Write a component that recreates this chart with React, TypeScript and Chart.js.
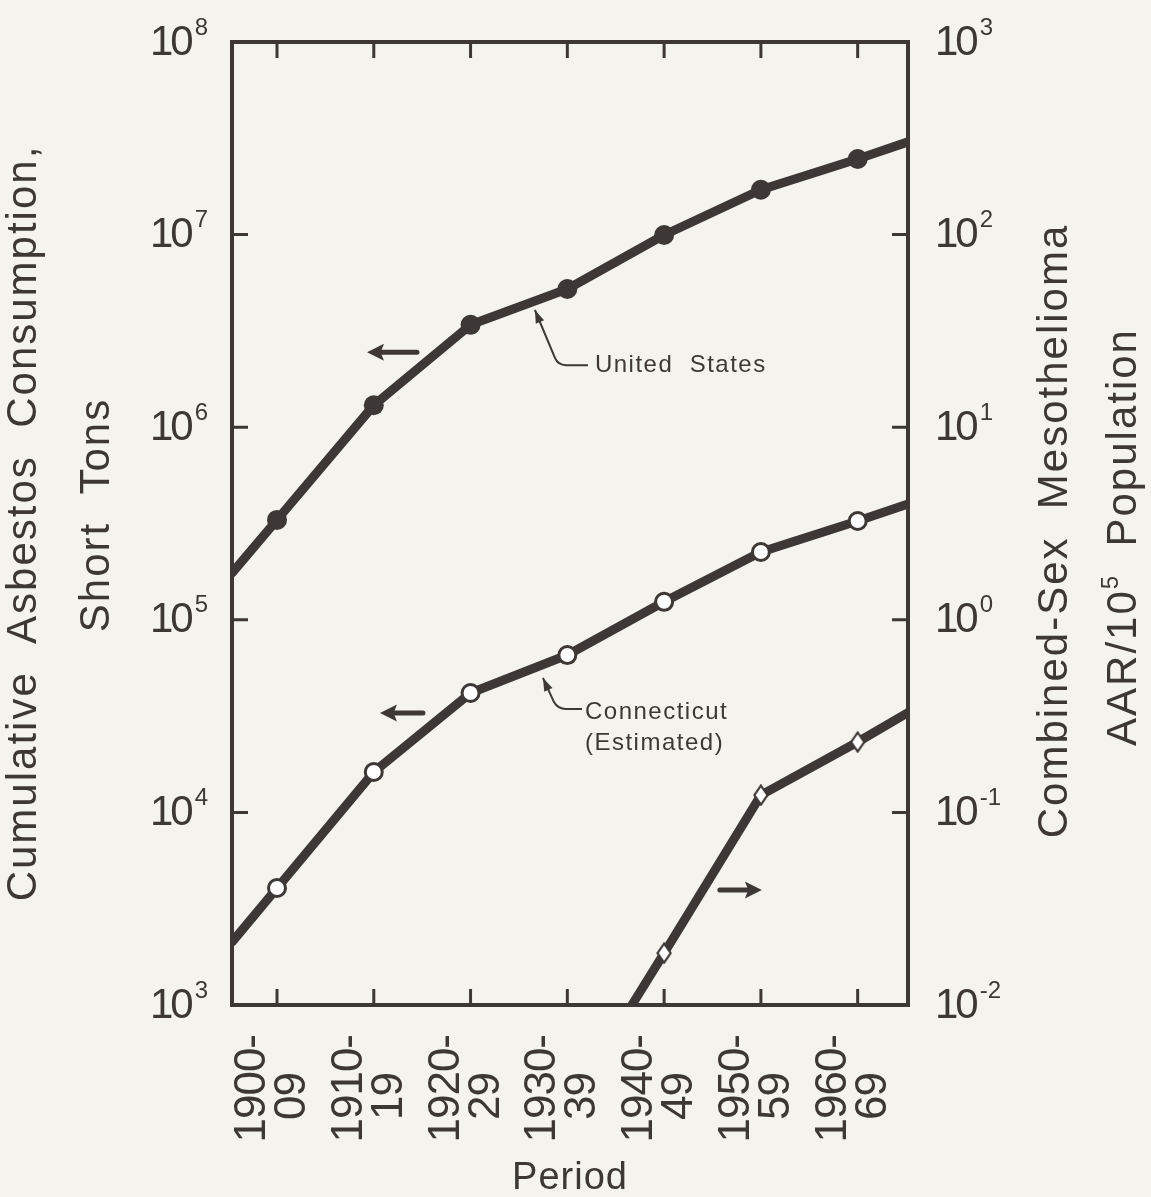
import React, { useEffect, useRef } from 'react';
import { Chart, registerables } from 'chart.js';

Chart.register(...registerables);

// ---------- data ----------
const periods = ['1900-09', '1910-19', '1920-29', '1930-39', '1940-49', '1950-59', '1960-69'];
const periodLine1 = ['1900-', '1910-', '1920-', '1930-', '1940-', '1950-', '1960-'];
const periodLine2 = ['09', '19', '29', '39', '49', '59', '69'];

// Cumulative asbestos consumption, short tons (left axis)
const usConsumption = [3.3e5, 1.3e6, 3.4e6, 5.22e6, 9.95e6, 1.71e7, 2.47e7];
const usFrameEdges = [1.75e5, 3.03e7]; // where the line meets the left / right frame
const ctConsumption = [4.05e3, 1.62e4, 4.17e4, 6.56e4, 1.24e5, 2.25e5, 3.26e5];
const ctFrameEdges = [2.12e3, 3.99e5];

// Combined-sex mesothelioma AAR / 10^5 population (right axis)
const mesoRate = [null, null, null, null, 0.0186, 0.123, 0.232];
const mesoEntry = { period: 3.667, rate: 0.01 }; // line enters through the bottom frame
const mesoFrameEdge = 0.33;

const leftExponents = [3, 4, 5, 6, 7, 8];
const rightExponents = [-2, -1, 0, 1, 2, 3];

const X_MIN = -0.465;
const X_MAX = 6.52;

// ---------- styles ----------
const INK = '#3d3836';
const BG = '#f4f3ee';
const FONT = '"Liberation Sans", Arial, sans-serif';
const W = 1151;
const H = 1197;

function makeDiamond(): HTMLCanvasElement {
  const c = document.createElement('canvas');
  c.width = 16;
  c.height = 22;
  const g = c.getContext('2d')!;
  g.beginPath();
  g.moveTo(8, 1.5);
  g.lineTo(14.5, 11);
  g.lineTo(8, 20.5);
  g.lineTo(1.5, 11);
  g.closePath();
  g.fillStyle = '#ffffff';
  g.fill();
  g.lineWidth = 2.2;
  g.strokeStyle = INK;
  g.stroke();
  return c;
}

function setSpacing(ctx: any, px: number) {
  if ('letterSpacing' in ctx) ctx.letterSpacing = px + 'px';
}

const decorPlugin = {
  id: 'decor',
  afterDraw(chart: any) {
    const ctx: CanvasRenderingContext2D = chart.ctx;
    const { left, right, top, bottom } = chart.chartArea;
    const xs = chart.scales.x;
    const yL = chart.scales.yL;
    const yR = chart.scales.yR;
    const X = (v: number) => xs.getPixelForValue(v);
    const YL = (v: number) => yL.getPixelForValue(v);
    const YR = (v: number) => yR.getPixelForValue(v);
    ctx.save();
    ctx.strokeStyle = INK;
    ctx.fillStyle = INK;

    // frame
    ctx.lineWidth = 4;
    ctx.lineJoin = 'miter';
    ctx.strokeRect(left, top, right - left, bottom - top);

    // ticks
    const tl = 16;
    ctx.lineWidth = 3;
    ctx.beginPath();
    periods.forEach((_, i) => {
      const x = X(i);
      ctx.moveTo(x, top);
      ctx.lineTo(x, top + tl);
      ctx.moveTo(x, bottom);
      ctx.lineTo(x, bottom - tl);
    });
    leftExponents.slice(1, -1).forEach((e) => {
      const y = YL(Math.pow(10, e));
      ctx.moveTo(left, y);
      ctx.lineTo(left + tl, y);
    });
    rightExponents.slice(1, -1).forEach((e) => {
      const y = YR(Math.pow(10, e));
      ctx.moveTo(right, y);
      ctx.lineTo(right - tl, y);
    });
    ctx.stroke();

    // power-of-ten labels
    const baseFont = `42px ${FONT}`;
    const expFont = `24px ${FONT}`;
    ctx.textBaseline = 'middle';
    ctx.textAlign = 'left';
    leftExponents.forEach((e) => {
      const y = YL(Math.pow(10, e));
      setSpacing(ctx, -3);
      ctx.font = baseFont;
      const wb = ctx.measureText('10').width;
      setSpacing(ctx, 0);
      ctx.font = expFont;
      const es = String(e);
      const we = ctx.measureText(es).width;
      const expX = left - 24 - we;
      ctx.fillText(es, expX, y - 14);
      setSpacing(ctx, -3);
      ctx.font = baseFont;
      ctx.fillText('10', expX - 4 - wb, y + 1);
    });
    rightExponents.forEach((e) => {
      const y = YR(Math.pow(10, e));
      setSpacing(ctx, -3);
      ctx.font = baseFont;
      const x0 = right + 27;
      ctx.fillText('10', x0, y + 1);
      const wb = ctx.measureText('10').width;
      setSpacing(ctx, 0);
      ctx.font = expFont;
      ctx.fillText(e < 0 ? '-' + Math.abs(e) : String(e), x0 + wb + 4, y - 14);
    });

    // period labels (rotated)
    ctx.font = `44px ${FONT}`;
    setSpacing(ctx, -1);
    ctx.textAlign = 'right';
    periods.forEach((_, i) => {
      const x = X(i);
      ctx.save();
      ctx.translate(x - 24, bottom + 30);
      ctx.rotate(-Math.PI / 2);
      ctx.fillText(periodLine1[i], 0, 0);
      ctx.restore();
      ctx.save();
      ctx.translate(x + 16, bottom + 68);
      ctx.rotate(-Math.PI / 2);
      ctx.fillText(periodLine2[i], 0, 0);
      ctx.restore();
    });

    // axis titles
    setSpacing(ctx, 1);
    ctx.textAlign = 'center';
    ctx.textBaseline = 'alphabetic';
    ctx.font = `38px ${FONT}`;
    ctx.fillText('Period', (left + right) / 2, 1189);

    const rotText = (parts: { t: string; sup?: boolean }[], cx: number, cy: number) => {
      ctx.save();
      ctx.translate(cx, cy);
      ctx.rotate(-Math.PI / 2);
      ctx.textAlign = 'left';
      ctx.textBaseline = 'middle';
      setSpacing(ctx, 2);
      let total = 0;
      const widths = parts.map((p) => {
        ctx.font = p.sup ? `24px ${FONT}` : `42px ${FONT}`;
        const w = ctx.measureText(p.t).width;
        total += w;
        return w;
      });
      let x = -total / 2;
      parts.forEach((p, k) => {
        ctx.font = p.sup ? `24px ${FONT}` : `42px ${FONT}`;
        ctx.fillText(p.t, x, p.sup ? -13 : 0);
        x += widths[k];
      });
      ctx.restore();
    };
    rotText([{ t: 'Cumulative  Asbestos  Consumption,' }], 24, 523);
    rotText([{ t: 'Short  Tons' }], 97, 515);
    rotText([{ t: 'Combined-Sex  Mesothelioma' }], 1055, 531);
    rotText([{ t: 'AAR/10' }, { t: '5', sup: true }, { t: '  Population' }], 1124, 537);

    // direction arrows
    const bigArrow = (x1: number, x2: number, y: number) => {
      // x1 = tail, x2 = head
      const dir = Math.sign(x2 - x1);
      const hl = 17;
      ctx.lineWidth = 5;
      ctx.lineCap = 'round';
      ctx.beginPath();
      ctx.moveTo(x1, y);
      ctx.lineTo(x2 - dir * hl * 0.6, y);
      ctx.stroke();
      ctx.beginPath();
      ctx.moveTo(x2, y);
      ctx.lineTo(x2 - dir * hl, y - 8.5);
      ctx.lineTo(x2 - dir * hl * 0.8, y);
      ctx.lineTo(x2 - dir * hl, y + 8.5);
      ctx.closePath();
      ctx.fill();
    };
    bigArrow(X(1.446), X(0.93), YL(2.45e6));
    bigArrow(X(1.508), X(1.064), YL(3.28e4));
    bigArrow(X(4.576), X(5.01), YR(0.0395));

    // leader lines with labels
    const leader = (tip: number[], elbow: number[], corner: number[], end: number[]) => {
      ctx.lineWidth = 2;
      ctx.lineCap = 'butt';
      ctx.beginPath();
      ctx.moveTo(tip[0], tip[1]);
      ctx.lineTo(elbow[0], elbow[1]);
      ctx.quadraticCurveTo(corner[0], corner[1], corner[0] + 8, corner[1]);
      ctx.lineTo(end[0], end[1]);
      ctx.stroke();
      const ang = Math.atan2(tip[1] - elbow[1], tip[0] - elbow[0]);
      const hl = 13;
      const hw = 4.5;
      ctx.beginPath();
      ctx.moveTo(tip[0], tip[1]);
      ctx.lineTo(tip[0] - hl * Math.cos(ang) + hw * Math.sin(ang), tip[1] - hl * Math.sin(ang) - hw * Math.cos(ang));
      ctx.lineTo(tip[0] - hl * Math.cos(ang) - hw * Math.sin(ang), tip[1] - hl * Math.sin(ang) + hw * Math.cos(ang));
      ctx.closePath();
      ctx.fill();
    };
    leader([X(2.665), YL(4.06e6)], [X(2.872), YL(2.29e6)], [X(2.903), YL(2.1e6)], [X(3.213), YL(2.1e6)]);
    leader([X(2.748), YL(4.99e4)], [X(2.862), YL(3.74e4)], [X(2.903), YL(3.44e4)], [X(3.151), YL(3.44e4)]);

    ctx.font = `24px ${FONT}`;
    setSpacing(ctx, 1.5);
    ctx.textAlign = 'left';
    ctx.textBaseline = 'middle';
    ctx.fillText('United  States', X(3.285), YL(2.1e6));
    ctx.fillText('Connecticut', X(3.182), YL(3.32e4));
    ctx.fillText('(Estimated)', X(3.182), YL(2.29e4));
    setSpacing(ctx, 0);
    ctx.restore();
  },
};

export default function App() {
  const ref = useRef<HTMLCanvasElement | null>(null);

  useEffect(() => {
    document.body.style.margin = '0';
    document.body.style.background = BG;
    const canvas = ref.current;
    if (!canvas) return;
    const diamond = makeDiamond();

    const usData = [
      { x: X_MIN, y: usFrameEdges[0] },
      ...usConsumption.map((v, i) => ({ x: i, y: v })),
      { x: X_MAX, y: usFrameEdges[1] },
    ];
    const ctData = [
      { x: X_MIN, y: ctFrameEdges[0] },
      ...ctConsumption.map((v, i) => ({ x: i, y: v })),
      { x: X_MAX, y: ctFrameEdges[1] },
    ];
    const mesoData = [
      { x: mesoEntry.period, y: mesoEntry.rate },
      ...mesoRate
        .map((v, i) => (v == null ? null : { x: i, y: v }))
        .filter((p) => p !== null),
      { x: X_MAX, y: mesoFrameEdge },
    ];
    const radii = (n: number, r: number) => [0, ...Array(n).fill(r), 0];

    const common = {
      borderColor: INK,
      borderWidth: 9,
      borderJoinStyle: 'round',
      borderCapStyle: 'round',
      tension: 0,
      clip: 0,
      pointHoverRadius: 0,
    };

    const chart = new Chart(canvas, {
      type: 'line',
      data: {
        datasets: [
          {
            ...common,
            label: 'United States',
            data: usData,
            yAxisID: 'yL',
            pointRadius: radii(usConsumption.length, 10),
            pointBackgroundColor: INK,
            pointBorderColor: INK,
            pointBorderWidth: 0,
          },
          {
            ...common,
            label: 'Connecticut (Estimated)',
            data: ctData,
            yAxisID: 'yL',
            pointRadius: radii(ctConsumption.length, 8.5),
            pointBackgroundColor: '#ffffff',
            pointBorderColor: INK,
            pointBorderWidth: 3,
          },
          {
            ...common,
            label: 'Mesothelioma AAR',
            data: mesoData,
            yAxisID: 'yR',
            pointStyle: diamond,
            pointRadius: [0, 10, 10, 10, 0],
          },
        ] as any,
      },
      options: {
        responsive: false,
        animation: false,
        devicePixelRatio: 1,
        layout: { padding: { left: 232, top: 42, right: W - 908, bottom: H - 1005 } },
        plugins: { legend: { display: false }, tooltip: { enabled: false } },
        events: [],
        scales: {
          x: { type: 'linear', min: X_MIN, max: X_MAX, display: false },
          yL: { type: 'logarithmic', position: 'left', min: 1e3, max: 1e8, display: false },
          yR: { type: 'logarithmic', position: 'right', min: 1e-2, max: 1e3, display: false },
        },
      } as any,
      plugins: [decorPlugin],
    });
    return () => chart.destroy();
  }, []);

  return (
    <div style={{ width: W, height: H, background: BG }}>
      <canvas ref={ref} width={W} height={H} style={{ display: 'block' }} />
    </div>
  );
}
